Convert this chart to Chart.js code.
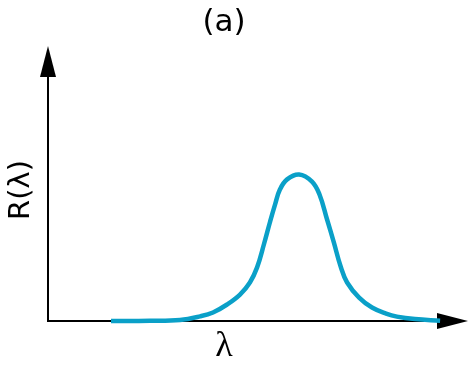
<!DOCTYPE html>
<html>
<head>
<meta charset="utf-8">
<script src="https://cdn.jsdelivr.net/npm/chart.js@4"></script>
<style>
  html, body { margin: 0; padding: 0; background: #fff; }
  #chart { display: block; }
</style>
</head>
<body>
<canvas id="chart" width="468" height="370"></canvas>
<script>
// Reflectance curve R(lambda), arbitrary units
const lambdaValues = [2.1, 3.4, 4.4, 5.07, 5.5, 5.97, 6.4, 6.73, 6.97, 7.2, 7.4, 7.57, 7.73, 7.97, 8.37,
    8.8, 9.05, 9.3, 9.53, 9.75, 9.97, 10.37, 10.8, 11.27, 11.63, 12.23, 13.07];
const reflectance = [0, 0.001, 0.004, 0.017, 0.031, 0.06, 0.096, 0.14, 0.195, 0.28, 0.36, 0.424, 0.478, 0.515, 0.533,
    0.507, 0.46, 0.37, 0.285, 0.2, 0.14, 0.085, 0.049, 0.027, 0.016, 0.007, 0.001];

const panelTitle = '(a)';
const xLabel = 'λ';
const yLabel = 'R(λ)';

const points = lambdaValues.map((x, i) => ({ x: x, y: reflectance[i] }));

// axes with arrowheads, drawn under the curve
const arrowAxes = {
    id: 'arrowAxes',
    beforeDatasetsDraw(chart) {
        const ctx = chart.ctx;
        const a = chart.chartArea;
        ctx.save();
        ctx.strokeStyle = '#000';
        ctx.fillStyle = '#000';
        ctx.lineWidth = 2;
        ctx.beginPath();
        ctx.moveTo(a.left, a.top + 20);
        ctx.lineTo(a.left, a.bottom);
        ctx.lineTo(a.right - 20, a.bottom);
        ctx.stroke();
        // y arrow
        ctx.beginPath();
        ctx.moveTo(a.left, a.top);
        ctx.lineTo(a.left - 8, a.top + 31);
        ctx.lineTo(a.left + 8, a.top + 31);
        ctx.closePath();
        ctx.fill();
        // x arrow
        ctx.beginPath();
        ctx.moveTo(a.right, a.bottom);
        ctx.lineTo(a.right - 31, a.bottom - 8);
        ctx.lineTo(a.right - 31, a.bottom + 8);
        ctx.closePath();
        ctx.fill();
        ctx.restore();
    },
    afterDraw(chart) {
        const ctx = chart.ctx;
        ctx.save();
        ctx.fillStyle = '#000';
        ctx.textAlign = 'center';
        ctx.textBaseline = 'middle';
        ctx.font = '31px "DejaVu Sans"';
        ctx.fillText(panelTitle, 224, 23);
        ctx.font = '36px "Liberation Serif"';
        ctx.fillText(xLabel, 224, 347);
        ctx.translate(21, 190);
        ctx.rotate(-Math.PI / 2);
        ctx.font = '29px "DejaVu Sans"';
        ctx.fillText(yLabel, 0, 0);
        ctx.restore();
    }
};

new Chart(document.getElementById('chart'), {
    type: 'line',
    data: {
        datasets: [{
            data: points,
            borderColor: '#0aa0c8',
            borderWidth: 4.5,
            pointRadius: 0,
            fill: false,
            tension: 0.4,
            clip: false
        }]
    },
    options: {
        responsive: false,
        animation: false,
        layout: { padding: { left: 48, right: 0, top: 46, bottom: 49 } },
        plugins: { legend: { display: false }, tooltip: { enabled: false } },
        scales: {
            x: { type: 'linear', min: 0, max: 14, display: false },
            y: { min: 0, max: 1, display: false }
        }
    },
    plugins: [arrowAxes]
});
</script>
</body>
</html>
